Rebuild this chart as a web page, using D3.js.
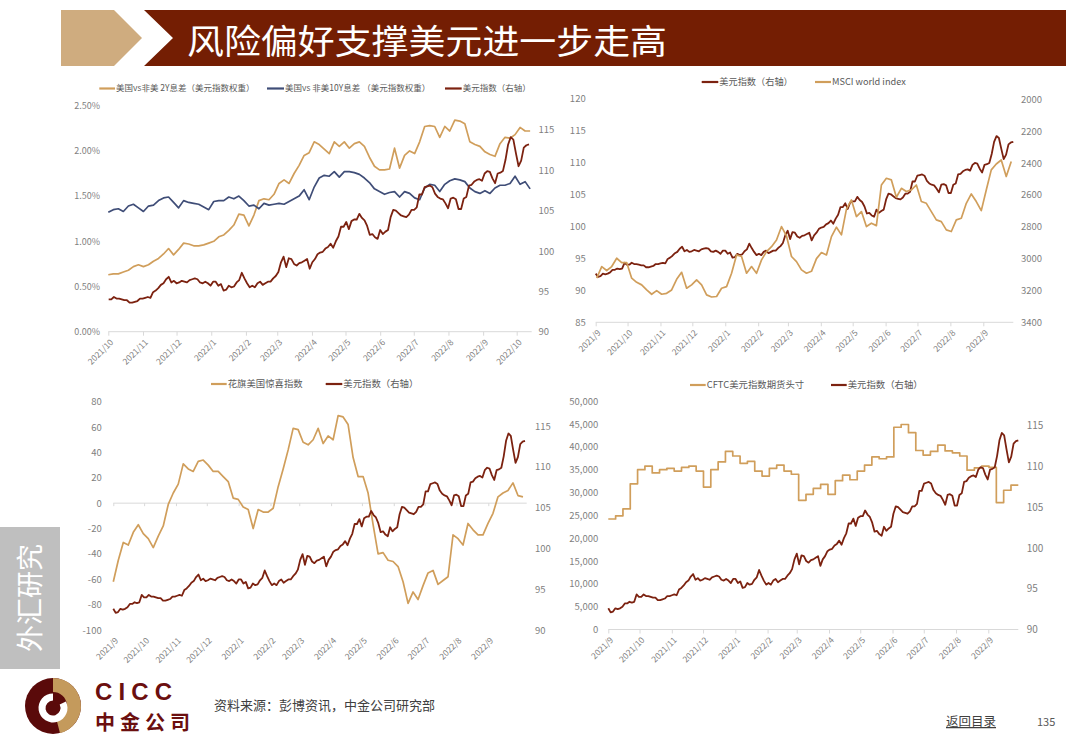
<!DOCTYPE html>
<html><head><meta charset="utf-8">
<script src="https://cdn.jsdelivr.net/npm/d3@7"></script>
<style>body{margin:0;background:#fff}</style>
</head><body>
<svg id="c" width="1080" height="755"></svg>
<script>
// ---------------- DATA ----------------
const dxyRange = ["2021-09-01", "2022-10-12"];
const dxy = [
92.6,92.1,92.2, 92.6,92.5,92.6, 92.8,93.2,93.2, 93.4,93.3,93.4,
94.3,94.0,94.0, 94.3,94.1,94.1, 94.0,93.9,93.9, 93.6,93.6,93.7,
93.8,94.1,94.1, 94.2,94.3,94.2, 94.9,95.1,95.4, 95.8,96.0,96.5,
96.8,96.1,96.3, 96.0,96.1,96.3, 96.2,96.1,96.4, 96.5,96.6,96.5,
96.1,96.0,96.2, 96.0,95.7,96.2, 96.2,95.7,95.9, 95.1,95.2,95.7,
95.5,95.6,96.1, 96.4,97.3,96.6, 96.0,95.5,95.7, 95.5,96.0,96.2,
95.8,96.0,96.2, 96.2,96.6,96.9, 97.4,98.6,99.3, 98.0,99.1,99.0,
98.4,98.2,98.5, 98.6,98.8,99.0, 97.8,98.6,99.0, 99.6,99.8,99.9,
100.3,100.5,100.9, 100.4,101.2,101.8, 103.0,103.0,103.6, 102.7,103.7,103.9,
103.9,104.6,104.1, 103.8,103.1,102.0, 102.1,101.7,101.5, 102.6,102.1,102.4,
102.6,104.2,105.1, 105.0,104.7,104.4, 104.3,104.2,104.5, 105.1,105.1,105.4,
107.0,107.0,107.9, 108.0,108.1,107.9, 107.1,106.7,106.5, 106.4,105.9,105.3,
106.5,106.6,106.4, 105.2,105.2,106.5, 106.7,108.1,108.2, 108.6,108.8,108.9,
108.7,109.6,109.9, 109.8,109.0,108.4, 109.6,109.7,109.9, 111.3,113.2,114.1,
113.8,112.1,110.5, 111.2,112.8,113.1, 113.2
];

const spreadRange = ["2021-10-01", "2022-10-13"];
const spread2y = [
0.63,0.64,0.64,0.66,0.68,0.72,0.74,0.72,0.74,0.78,
0.81,0.86,0.92,0.85,0.91,0.98,0.97,0.95,0.95,0.96,
0.98,1.00,1.05,1.07,1.12,1.18,1.30,1.29,1.17,1.29,
1.45,1.47,1.46,1.52,1.64,1.68,1.64,1.75,1.84,1.95,
1.98,2.10,2.07,2.02,1.97,2.10,2.05,2.10,2.03,2.08,
2.10,2.05,1.93,1.83,1.79,1.79,1.80,2.03,1.81,1.95,
2.00,1.97,2.10,2.27,2.28,2.27,2.15,2.27,2.22,2.34,
2.33,2.30,2.10,2.07,2.05,1.99,1.96,1.94,2.08,2.15,
2.14,2.18,2.26,2.22,2.22
];
const spread10y = [
1.32,1.35,1.36,1.33,1.39,1.41,1.37,1.33,1.39,1.40,
1.45,1.48,1.49,1.43,1.37,1.45,1.43,1.42,1.41,1.38,
1.35,1.44,1.45,1.45,1.49,1.47,1.50,1.45,1.39,1.40,
1.36,1.42,1.40,1.41,1.42,1.41,1.44,1.47,1.50,1.57,
1.46,1.60,1.70,1.73,1.72,1.77,1.71,1.77,1.77,1.76,
1.74,1.70,1.65,1.58,1.55,1.52,1.54,1.55,1.49,1.55,
1.53,1.48,1.46,1.59,1.63,1.62,1.55,1.63,1.67,1.69,
1.68,1.66,1.59,1.55,1.53,1.56,1.53,1.59,1.62,1.62,
1.64,1.72,1.63,1.66,1.58
];

const msciRange = ["2021-09-02", "2022-10-10"];
const msci = [
3123,3050,3075,3050,2998,3025,3025,3123,3149,3165,
3197,3224,3201,3224,3218,3197,3130,3086,3186,3165,
3134,3165,3228,3241,3238,3186,3176,3092,2977,2987,
3092,3050,3092,3008,2956,2925,2883,2799,2858,2987,
3019,3071,3092,3080,3000,2962,2977,2862,2803,2851,
2690,2632,2736,2705,2799,2778,2793,2538,2496,2506,
2615,2559,2579,2569,2538,2642,2653,2705,2757,2768,
2820,2830,2757,2747,2653,2594,2642,2699,2569,2443,
2406,2381,2485,2391
];

const citiRange = ["2021-09-01", "2022-10-10"];
const citiSurprise = [
-62,-45,-31,-33,-23,-17,-24,-28,-35,-26,
-18,-1,8,15,31,27,25,33,34,30,
25,25,21,17,4,3,-3,-5,-20,-5,
-7,-7,-4,13,27,42,59,58,48,46,
50,59,47,53,50,69,68,62,36,21,
21,8,-17,-40,-39,-45,-46,-50,-62,-79,
-70,-76,-65,-55,-53,-64,-61,-58,-25,-28,
-33,-16,-21,-25,-25,-16,-8,5,8,10,
16,6,5
];

// weekly CFTC positions (step series)
const cftc = [
24200,24900,26400,31900,35000,35800,34300,35000,35300,34700,
35500,35800,34700,31200,35000,36700,39000,38000,36400,36800,
34700,33600,35300,36000,34700,34000,28300,29600,30900,31800,
29600,32600,33800,32800,34700,36000,37800,37400,37800,44300,
44900,43100,39200,38200,39000,40400,39100,38700,38000,34900,
35400,35800,35500,27800,30500,31600
];

const monthsA = ["2021/10","2021/11","2021/12","2022/1","2022/2","2022/3","2022/4","2022/5","2022/6","2022/7","2022/8","2022/9","2022/10"];
const monthsB = ["2021/9","2021/10","2021/11","2021/12","2022/1","2022/2","2022/3","2022/4","2022/5","2022/6","2022/7","2022/8","2022/9"];

const ticksPct = [0,0.5,1.0,1.5,2.0,2.5];
const ticksDxyR = [90,95,100,105,110,115];
const ticksDxyL = [85,90,95,100,105,110,115,120];
const ticksMsci = [2000,2200,2400,2600,2800,3000,3200,3400];
const ticksCiti = [-100,-80,-60,-40,-20,0,20,40,60,80];
const ticksCftc = [0,5000,10000,15000,20000,25000,30000,35000,40000,45000,50000];

const legend1 = ["美国vs非美 2Y息差（美元指数权重）","美国vs 非美10Y息差 （美元指数权重）","美元指数（右轴）"];
const legend2 = ["美元指数（右轴）","MSCI world index"];
const legend3 = ["花旗美国惊喜指数","美元指数（右轴）"];
const legend4 = ["CFTC美元指数期货头寸","美元指数（右轴）"];

// ---------------- HELPERS ----------------
const FONT = '"Noto Sans CJK SC","Noto Sans",sans-serif';
const TAN = "#D09E5B", RED = "#7C2210", NAVY = "#3F4D77";
const AXC = "#D9D9D9", LBL = "#7F7F7F", LEG = "#595959";
const pd = d3.timeParse("%Y-%m-%d");
const parseYM = s => { const p = s.split("/").map(Number); return new Date(p[0], p[1]-1, 1); };
const spreadDates = (r, n) => { const t0 = pd(r[0]).getTime(), t1 = pd(r[1]).getTime(); return d3.range(n).map(i => new Date(t0 + (t1 - t0) * i / (n - 1))); };

const svg = d3.select("#c").attr("font-family", FONT);

function xAxis(scale, labels, y, xStart, xEnd){
  svg.append("line").attr("x1", xStart).attr("x2", xEnd).attr("y1", y).attr("y2", y).attr("stroke", AXC).attr("stroke-width", 1);
  const a = svg.append("g").attr("transform", `translate(0,${y})`)
    .call(d3.axisBottom(scale).tickValues(labels.map(parseYM)).tickFormat((d,i) => labels[i]).tickSize(4));
  a.attr("font-family", FONT).attr("font-size", 8.5);
  a.select(".domain").remove();
  a.selectAll(".tick line").attr("stroke", AXC);
  a.selectAll(".tick text").attr("y", 0).attr("dy", "0.35em").attr("fill", LBL)
    .attr("transform", "translate(3,9) rotate(-45)").style("text-anchor", "end");
}
function yAxis(scale, vals, fmt, x, side, fs){
  const ax = (side === "left" ? d3.axisLeft(scale) : d3.axisRight(scale)).tickValues(vals).tickFormat(fmt).tickSize(0).tickPadding(0);
  const a = svg.append("g").attr("transform", `translate(${x},0)`).call(ax);
  a.attr("font-family", FONT).attr("font-size", fs);
  a.select(".domain").remove();
  a.selectAll("text").attr("fill", LBL);
}
function legend(items, y, fs){
  items.forEach(it => {
    svg.append("line").attr("x1", it.x).attr("x2", it.x + it.w).attr("y1", y).attr("y2", y).attr("stroke", it.c).attr("stroke-width", 2.2);
    svg.append("text").attr("x", it.x + it.w + 1).attr("y", y).attr("dy", "0.35em").attr("font-size", fs).attr("fill", LEG).text(it.t);
  });
}
function drawLine(pts, xs, ys, color, w, curve){
  svg.append("path").datum(pts).attr("fill", "none").attr("stroke", color).attr("stroke-width", w)
    .attr("stroke-linejoin", "round")
    .attr("d", d3.line().x(d => xs(d[0])).y(d => ys(d[1])).curve(curve || d3.curveLinear));
}

const dxyDates = spreadDates(dxyRange, dxy.length);
const dxyPts = dxy.map((v,i) => [dxyDates[i], v]);

// ---------------- HEADER ----------------
svg.append("polygon").attr("points", "61,10 114,10 142,38 114,66 61,66").attr("fill", "#CFAC7F");
svg.append("polygon").attr("points", "144,10 1066,10 1066,66 144,66 173,38").attr("fill", "#741E03");
svg.append("text").attr("x", 187).attr("y", 54).attr("fill", "#fff").attr("font-size", 34)
  .attr("textLength", 480).attr("lengthAdjust", "spacingAndGlyphs").text("风险偏好支撑美元进一步走高");

// ---------------- CHART 1 (top-left) ----------------
{
  const top = 105.7, bot = 331.7;
  const xs = d3.scaleTime().domain([parseYM("2021/10"), parseYM("2022/10")]).range([108.3, 516.7]);
  const yl = d3.scaleLinear().domain([0, 2.5]).range([bot, top]);
  const yr = d3.scaleLinear().domain([90, 118]).range([bot, top]);
  xAxis(xs, monthsA, bot, 108.3, 531.7);
  yAxis(yl, ticksPct, d => d.toFixed(2) + "%", 100, "left", 9);
  yAxis(yr, ticksDxyR, d => String(d), 538.5, "right", 9.5);
  const sd = spreadDates(spreadRange, spread2y.length);
  const start = parseYM("2021/10");
  drawLine(spread2y.map((v,i) => [sd[i], v]), xs, yl, TAN, 1.7);
  drawLine(spread10y.map((v,i) => [sd[i], v]), xs, yl, NAVY, 1.7);
  drawLine(dxyPts.filter(d => d[0] >= start), xs, yr, RED, 1.8);
  legend([
    {x: 99.3, w: 15.7, c: TAN, t: legend1[0]},
    {x: 267, w: 17, c: NAVY, t: legend1[1]},
    {x: 445, w: 16.7, c: RED, t: legend1[2]}
  ], 88.5, 8.5);
}

// ---------------- CHART 2 (top-right) ----------------
{
  const top = 98.3, bot = 322.3;
  const xa = d3.scaleTime().domain([parseYM("2021/9"), parseYM("2022/9")]).range([595.7, 983.3]);
  const xd = d3.scaleTime().domain(dxyRange.map(pd)).range([595.7, 1013.3]);
  const yl = d3.scaleLinear().domain([85, 120]).range([bot, top]);
  const yr = d3.scaleLinear().domain([2000, 3400]).range([top + 1, bot]);
  xAxis(xa, monthsB, bot, 595.7, 1013.3);
  yAxis(yl, ticksDxyL, d => String(d), 585.7, "left", 9.5);
  yAxis(yr, ticksMsci, d => String(d), 1021, "right", 9.5);
  drawLine(dxyPts, xd, yl, RED, 1.8);
  const md = spreadDates(msciRange, msci.length);
  drawLine(msci.map((v,i) => [md[i], v]), xd, yr, TAN, 1.7);
  legend([
    {x: 701.7, w: 16.6, c: RED, t: legend2[0]},
    {x: 815, w: 16, c: TAN, t: legend2[1]}
  ], 82, 9.2);
}

// ---------------- CHART 3 (bottom-left) ----------------
{
  const top = 401.7, bot = 630;
  const xa = d3.scaleTime().domain([parseYM("2021/9"), parseYM("2022/9")]).range([113.3, 488.3]);
  const xd = d3.scaleTime().domain(dxyRange.map(pd)).range([113.3, 525]);
  const yl = d3.scaleLinear().domain([-100, 80]).range([bot, top]);
  const yr = d3.scaleLinear().domain([90, 118]).range([bot, top]);
  // zero line with ticks
  svg.append("line").attr("x1", 113.3).attr("x2", 526.7).attr("y1", yl(0)).attr("y2", yl(0)).attr("stroke", AXC);
  const a = svg.append("g").attr("transform", `translate(0,${yl(0)})`)
    .call(d3.axisBottom(xa).tickValues(monthsB.map(parseYM)).tickFormat("").tickSize(3));
  a.select(".domain").remove(); a.selectAll(".tick line").attr("stroke", AXC);
  // labels at bottom
  const b = svg.append("g").attr("transform", `translate(0,${bot})`)
    .call(d3.axisBottom(xa).tickValues(monthsB.map(parseYM)).tickFormat((d,i) => monthsB[i]).tickSize(0));
  b.attr("font-family", FONT).attr("font-size", 8.5);
  b.select(".domain").remove();
  b.selectAll(".tick text").attr("y", 0).attr("dy", "0.35em").attr("fill", LBL)
    .attr("transform", "translate(3,9) rotate(-45)").style("text-anchor", "end");
  yAxis(yl, ticksCiti, d => String(d), 101.7, "left", 9.5);
  yAxis(yr, ticksDxyR, d => String(d), 535, "right", 9.5);
  const cd = spreadDates(citiRange, citiSurprise.length);
  drawLine(citiSurprise.map((v,i) => [cd[i], v]), xd, yl, TAN, 1.7);
  drawLine(dxyPts, xd, yr, RED, 1.8);
  legend([
    {x: 211, w: 15.7, c: TAN, t: legend3[0]},
    {x: 325.7, w: 16.6, c: RED, t: legend3[1]}
  ], 384, 9.4);
}

// ---------------- CHART 4 (bottom-right) ----------------
{
  const top = 401.2, bot = 629.5;
  const xa = d3.scaleTime().domain([parseYM("2021/9"), parseYM("2022/9")]).range([608.3, 988.3]);
  const xd = d3.scaleTime().domain(dxyRange.map(pd)).range([608.3, 1018.3]);
  const xw = d3.scaleLinear().domain([0, cftc.length]).range([608.3, 1018.3]);
  const yl = d3.scaleLinear().domain([0, 50000]).range([bot, top]);
  const yr = d3.scaleLinear().domain([90, 118]).range([bot, top]);
  xAxis(xa, monthsB, bot, 608.3, 1018.3);
  yAxis(yl, ticksCftc, d3.format(","), 598.3, "left", 9.5);
  yAxis(yr, ticksDxyR, d => String(d), 1026.7, "right", 10);
  const cp = cftc.map((v,i) => [i, v]).concat([[cftc.length, cftc[cftc.length-1]]]);
  drawLine(cp, xw, yl, TAN, 1.7, d3.curveStepAfter);
  drawLine(dxyPts, xd, yr, RED, 1.8);
  legend([
    {x: 690, w: 15.7, c: TAN, t: legend4[0]},
    {x: 831, w: 15.7, c: RED, t: legend4[1]}
  ], 385, 9.4);
}

// ---------------- SIDE TAB ----------------
svg.append("rect").attr("x", 0).attr("y", 527).attr("width", 60).attr("height", 142).attr("fill", "#BFBFBF");
svg.append("text").attr("transform", "translate(31,598) rotate(-90)").attr("text-anchor", "middle").attr("dy", "0.35em")
  .attr("fill", "#fff").attr("font-size", 27).text("外汇研究");

// ---------------- FOOTER ----------------
svg.append("circle").attr("cx", 53).attr("cy", 706).attr("r", 28).attr("fill", "#5A0A0A");
svg.append("path").attr("transform", "translate(53,706)")
  .attr("d", d3.arc().innerRadius(14).outerRadius(28).startAngle(0).endAngle(Math.PI * 0.92)())
  .attr("fill", "#C49A5C");
svg.append("path").attr("transform", "translate(53,708)")
  .attr("d", d3.arc().innerRadius(7.5).outerRadius(14.5).startAngle(Math.PI * 0.35).endAngle(Math.PI * 2)())
  .attr("fill", "#fff");
svg.append("text").attr("x", 95).attr("y", 700).attr("font-family", '"Liberation Sans",Arial,sans-serif')
  .attr("font-weight", "bold").attr("font-size", 24).attr("fill", "#6B0F0F").attr("textLength", 77).text("CICC");
svg.append("text").attr("x", 95).attr("y", 729.5).attr("font-weight", "bold").attr("font-size", 20)
  .attr("fill", "#6B0F0F").attr("textLength", 95).text("中金公司");
svg.append("text").attr("x", 214).attr("y", 710).attr("font-size", 13).attr("fill", "#404040").text("资料来源：彭博资讯，中金公司研究部");
svg.append("text").attr("x", 946).attr("y", 726).attr("font-size", 12.5).attr("fill", "#404040")
  .attr("text-decoration", "underline").text("返回目录");
svg.append("text").attr("x", 1037).attr("y", 726).attr("font-size", 11).attr("fill", "#595959").text("135");
</script>
</body></html>
